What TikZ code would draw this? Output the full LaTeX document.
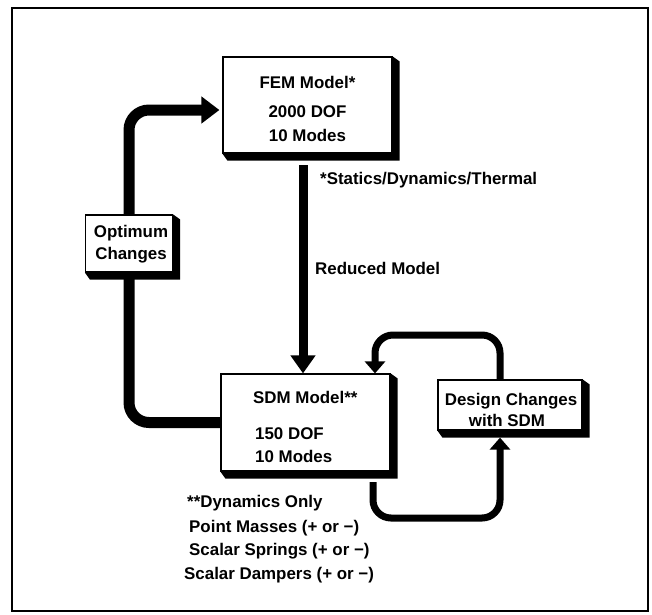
\documentclass[tikz,border=0pt]{standalone}
\usepackage{fontspec}
\setmainfont{Liberation Sans}
\usetikzlibrary{arrows.meta,calc}
\pgfdeclarelayer{bg}
\pgfsetlayers{bg,main}
\newcommand\boxslab[1]{\fill (#1.south west) -- ++(5,7) -- ($(#1.south east)+(7,7)$) -- ($(#1.north east)+(7,5)$) -- (#1.north east) -- (#1.south east) -- cycle;}
\begin{document}
\begin{tikzpicture}[x=1pt,y=-1pt,
  font=\bfseries\fontsize{16.9}{19}\selectfont,
  box/.style={draw, line width=1.2pt, fill=white, inner sep=0pt},
  lbl/.style={inner sep=0pt},
  heavy/.style={line width=11pt, rounded corners=20pt, -{Triangle[width=26pt,length=18pt]}},
  down/.style={line width=9pt, -{Triangle[width=24pt,length=18pt]}},
  loopline/.style={line width=7pt, rounded corners=18pt, -{Triangle[width=20pt,length=12pt]}}]
\useasboundingbox (0,0) rectangle (652,614);
\draw[line width=1.4pt] (12,8) rectangle (648,611);

% boxes
\node[box, minimum width=169pt, minimum height=96pt] (FEM) at (307.5,105) {};
\boxslab{FEM}
\node[box, minimum width=169pt, minimum height=97pt] (SDM) at (305.5,422.5) {};
\boxslab{SDM}
\node[box, minimum width=144pt, minimum height=50pt] (DES) at (510,405) {};
\boxslab{DES}
\node[box, minimum width=87pt, minimum height=57pt] (OPT) at (129,243.5) {};
\boxslab{OPT}

% texts
\node[lbl] (fem1) at (307.5,82) {FEM Model*};
\node[lbl] (fem2) at (307.5,112) {2000 DOF};
\node[lbl] (fem3) at (307.5,135) {10 Modes};
\node[lbl, anchor=west] (sdm1) at (253,397) {SDM Model**};
\node[lbl, anchor=west] (sdm2) at (255,434) {150 DOF};
\node[lbl, anchor=west] (sdm3) at (255,456) {10 Modes};
\node[lbl] (des1) at (511,401) {Design Changes};
\node[lbl] (des2) at (507,420) {with SDM};
\node[lbl] (opt1) at (131,233) {Optimum};
\node[lbl] (opt2) at (131,255) {Changes};
\node[lbl, anchor=west] (stat) at (320,180) {*Statics/Dynamics/Thermal};
\node[lbl, anchor=west] (red) at (315,268) {Reduced Model};
\node[lbl, anchor=west] (n1) at (187,503) {**Dynamics Only};
\node[lbl, anchor=west] (n2) at (189,528) {Point Masses (+ or {\char"2212})};
\node[lbl, anchor=west] (n3) at (189,551) {Scalar Springs (+ or {\char"2212})};
\node[lbl, anchor=west] (n4) at (184,575) {Scalar Dampers (+ or {\char"2212})};

% connectors
\coordinate (FEMin) at ($(FEM.west)+(-3,5)$);
\coordinate (dtop) at (303,165);
\coordinate (rx) at (500,335);
\coordinate (lx) at (375,335);
\coordinate (bs) at (373,482);
\coordinate (bc) at (373,518);
\coordinate (bd) at (500,518);
\coordinate (bend) at ($(DES.south -| bd)+(0,7)$);
\begin{pgfonlayer}{bg}
\draw[heavy] (SDM.west) -| (OPT.center) |- (FEMin);
\draw[down] (dtop) -- (dtop |- SDM.north);
\draw[loopline] (DES.north -| rx) -- (rx) -- (lx) -- (lx |- SDM.north);
\draw[loopline] (bs) -- (bc) -- (bd) -- (bend);
\end{pgfonlayer}
\end{tikzpicture}
\end{document}
